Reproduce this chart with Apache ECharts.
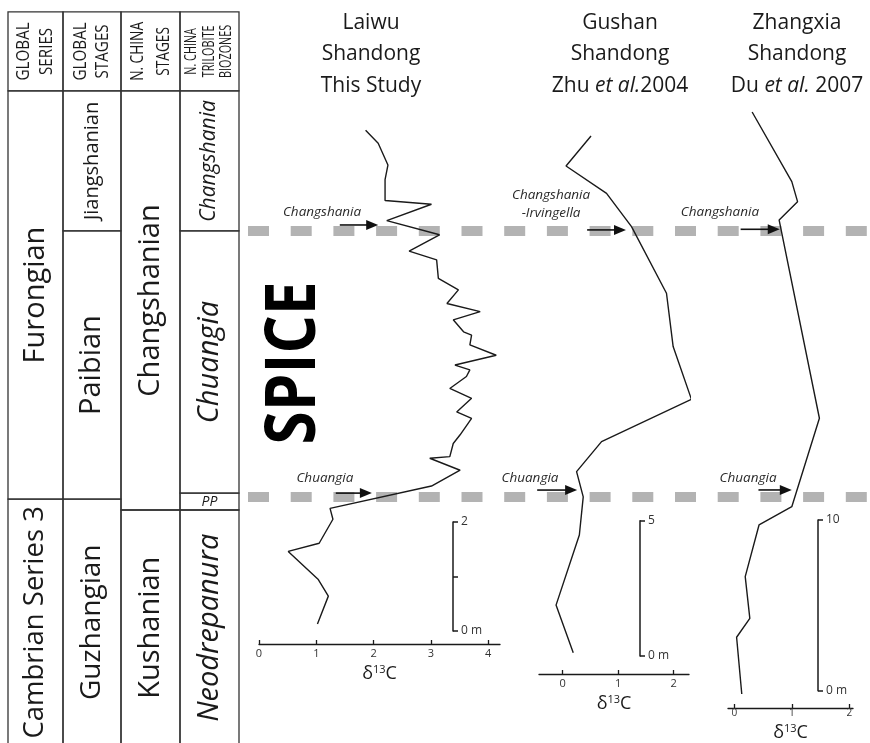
<!DOCTYPE html>
<html><head><meta charset="utf-8">
<script src="https://cdn.jsdelivr.net/npm/echarts@6/dist/echarts.min.js"></script>
<style>html,body{margin:0;padding:0;background:#fff}#c{width:870px;height:743px}</style>
</head><body><div id="c"></div>
<script>
// ================= DATA =================
// δ13C curves: [δ13C (‰), height in section (m)]
const laiwuCurve = [[1.02,0.13],[1.21,0.64],[1.03,0.95],[0.51,1.46],[1.05,1.61],[1.29,2.05],[1.24,2.25],[3.01,2.66],[3.51,2.95],[2.98,3.17],[3.33,3.20],[3.39,3.44],[3.51,3.60],[3.71,3.90],[3.45,4.02],[3.71,4.27],[3.33,4.45],[3.62,4.67],[3.68,4.79],[3.42,4.88],[4.14,5.06],[3.68,5.25],[3.71,5.43],[3.57,5.49],[3.39,5.71],[3.86,5.86],[3.28,6.01],[3.48,6.26],[3.13,6.47],[3.10,6.81],[2.62,6.97],[3.15,7.27],[2.23,7.53],[3.01,7.83],[2.20,7.90],[2.20,8.28],[2.25,8.55],[2.08,8.95],[1.86,9.19]];
const gushanCurve = [[0.19,0.12],[-0.12,1.88],[0.30,4.47],[0.37,5.88],[0.25,6.81],[0.70,7.92],[2.32,9.48],[1.99,11.43],[1.87,13.40],[1.24,15.86],[0.79,17.09],[0.06,18.10],[0.51,19.21]];
const zhangxiaCurve = [[0.13,-0.19],[0.04,3.13],[0.27,4.24],[0.19,6.68],[0.43,9.71],[1.00,10.78],[1.48,15.96],[0.78,27.57],[1.10,28.65],[1.00,29.82],[0.31,33.90]];

// Section titles
const sectionTitles = ['Laiwu\nShandong\nThis Study', 'Gushan\nShandong\nZhu {i|et al.}2004', 'Zhangxia\nShandong\nDu {i|et al.} 2007'];

// δ13C axis ticks
const laiwuTicks = [0,1,2,3,4];
const gushanTicks = [0,1,2];
const zhangxiaTicks = [0,1,2];
// vertical scale bars (m)
const laiwuBarTicks = [0,1,2], laiwuBarLabels = [0,2];
const gushanBarTicks = [0,5], gushanBarLabels = [0,5];
const zhangxiaBarTicks = [0,10], zhangxiaBarLabels = [0,10];

// Biozone base arrows: [δ start, δ end, height m]
const laiwuArrows = [[1.41,2.08,7.45],[1.34,1.97,2.53]];
const gushanArrows = [[0.44,1.14,15.74],[-0.46,0.26,6.13]];
const zhangxiaArrows = [[0.11,0.79,27.03],[0.42,1.00,11.76]];
// Arrow labels: [text, δ, height m]
const laiwuArrowLabels = [['Changshania',1.10,7.69],['Chuangia',1.15,2.81]];
const gushanArrowLabels = [['Changshania\n-Irvingella',-0.21,16.70],['Chuangia',-0.59,6.58]];
const zhangxiaArrowLabels = [['Changshania',-0.25,28.04],['Chuangia',0.24,12.46]];

// Stratigraphic framework, levels in Laiwu section metres: [name, top, base]
const headerTop = 11.36, headerBase = 9.91;
const columnHeaders = ['GLOBAL\nSERIES','GLOBAL\nSTAGES','N. CHINA\nSTAGES','N. CHINA\nTRILOBITE\nBIOZONES'];
const globalSeries = [['Furongian',9.91,2.42],['Cambrian Series 3',2.42,-2.1]];
const globalStages = [['Jiangshanian',9.91,7.34],['Paibian',7.34,2.42],['Guzhangian',2.42,-2.1]];
const chinaStages = [['Changshanian',9.91,2.22],['Kushanian',2.22,-2.1]];
const trilobiteZones = [['Changshania',9.91,7.34],['Chuangia',7.34,2.53],['PP',2.53,2.22],['Neodrepanura',2.22,-2.1]];
const spiceBounds = [7.34, 2.46];
const spiceLabel = 'SPICE';

// ================= LAYOUT / STYLE =================
const FONT = '"Open Sans","Noto Sans",sans-serif';
const INK = '#1a1a1a';
const TOP = 100;
const panelLayout = [
  {axisLeft:259, axisRight:500, axisY:644, zeroY:631, pxPerM:54.5, x0:259, pxPerD:57.3, barX:453, nameGap:19, labelMargin:4, labelSize:11, titleX:371},
  {axisLeft:539, axisRight:689, axisY:674, zeroY:656, pxPerM:27.07, x0:562.7, pxPerD:55.5, barX:640, nameGap:16, labelMargin:4, labelSize:11, titleX:620},
  {axisLeft:728, axisRight:853, axisY:708, zeroY:690.7, pxPerM:17.07, x0:734.3, pxPerD:57.5, barX:818, nameGap:13, labelMargin:0, labelSize:10, titleX:797}
];
const strat = {left:8, top:12, width:862, height:731, zeroY:631, pxPerM:54.5};
const colEdges = [0,55,113,172,231];
const dashFrom = 240, dashTo = 862;
const cellFontSize = {'Furongian':29,'Cambrian Series 3':27.5,'Jiangshanian':20,'Paibian':29,'Guzhangian':28,'Changshanian':29,'Kushanian':29,'Changshania':21,'Chuangia':29,'PP':14,'Neodrepanura':29};
const headerFont = [19,19,19,15.5], headerScale = [0.8,0.8,0.72,0.7], headerLH = [23,22,26,17.5];

const curves = [laiwuCurve, gushanCurve, zhangxiaCurve];
const ticks = [laiwuTicks, gushanTicks, zhangxiaTicks];
const barTicks = [laiwuBarTicks, gushanBarTicks, zhangxiaBarTicks];
const barLabels = [laiwuBarLabels, gushanBarLabels, zhangxiaBarLabels];
const arrows = [laiwuArrows, gushanArrows, zhangxiaArrows];
const arrowLabels = [laiwuArrowLabels, gushanArrowLabels, zhangxiaArrowLabels];

// table cells
const cells = [];
columnHeaders.forEach((h,i)=>cells.push({c:i, top:headerTop, base:headerBase, text:h, header:true}));
[globalSeries, globalStages, chinaStages, trilobiteZones].forEach((col,i)=>col.forEach(u=>cells.push({c:i, top:u[1], base:u[2], text:u[0]})));

const grids = [{left:strat.left, top:strat.top, width:strat.width, height:strat.height, outerBoundsMode:'none'}];
const xAxes = [{gridIndex:0, type:'value', min:0, max:strat.width, show:false}];
const yAxes = [{gridIndex:0, type:'value', min:(strat.zeroY-strat.top-strat.height)/strat.pxPerM, max:(strat.zeroY-strat.top)/strat.pxPerM, show:false}];
const series = [];

// table
series.push({
  type:'custom', xAxisIndex:0, yAxisIndex:0, clip:false, silent:true, z:2,
  data: cells.map(c=>[c.c, c.top, c.base]),
  renderItem:(params, api)=>{
    const cell = cells[params.dataIndex];
    const x0 = api.coord([colEdges[cell.c],0])[0], x1 = api.coord([colEdges[cell.c+1],0])[0];
    const y0 = api.coord([0,cell.top])[1], y1 = api.coord([0,cell.base])[1];
    let fs, sc = 1, lh, italic = (cell.c === 3 && !cell.header), rot = Math.PI/2;
    if (cell.header) { fs = headerFont[cell.c]; sc = headerScale[cell.c]; lh = headerLH[cell.c]; }
    else { fs = cellFontSize[cell.text] || 28; lh = fs*1.2; }
    if (cell.text === 'PP') rot = 0;
    return {type:'group', children:[
      {type:'rect', shape:{x:x0, y:y0, width:x1-x0, height:y1-y0}, style:{fill:'none', stroke:'#333', lineWidth:1.3}},
      {type:'text', x:(x0+x1)/2, y:(y0+y1)/2 + (rot===0?0.5:0), rotation:rot, scaleX:sc,
       style:{text:cell.text, fill:INK, fontFamily:FONT, fontSize:fs, fontStyle: italic?'italic':'normal', align:'center', verticalAlign:'middle', lineHeight:lh}}
    ]};
  }
});
// SPICE boundary dashed lines
spiceBounds.forEach(lv=>series.push({
  type:'line', xAxisIndex:0, yAxisIndex:0, data:[[dashFrom,lv],[dashTo,lv]], symbol:'none', silent:true, z:1,
  lineStyle:{color:'#b3b3b3', width:10, type:[21,21.7], cap:'butt'}
}));

panelLayout.forEach((L,i)=>{
  const gi = grids.length;
  grids.push({left:L.axisLeft, width:L.axisRight-L.axisLeft, top:TOP, height:L.axisY-TOP, outerBoundsMode:'none'});
  xAxes.push({gridIndex:gi, type:'value', min:(L.axisLeft-L.x0)/L.pxPerD, max:(L.axisRight-L.x0)/L.pxPerD,
    axisLine:{show:true, onZero:false, lineStyle:{color:INK, width:1.3}},
    axisTick:{show:true, inside:true, length:4, customValues:ticks[i], lineStyle:{color:INK, width:1.3}},
    axisLabel:{show:true, customValues:ticks[i], fontSize:L.labelSize, color:'#333', fontFamily:FONT, margin:L.labelMargin},
    splitLine:{show:false},
    name:'{a|δ}{b|13}{a|C}', nameLocation:'middle', nameGap:L.nameGap,
    nameTextStyle:{rich:{a:{fontSize:18, fontFamily:FONT, color:INK, lineHeight:20}, b:{fontSize:11, fontFamily:FONT, color:INK, verticalAlign:'top', lineHeight:20}}}
  });
  yAxes.push({gridIndex:gi, type:'value', min:(L.zeroY-L.axisY)/L.pxPerM, max:(L.zeroY-TOP)/L.pxPerM, show:false});
  series.push({type:'line', xAxisIndex:gi, yAxisIndex:gi, data:curves[i], symbol:'none', z:4, silent:true,
    lineStyle:{color:INK, width:1.4}});
  // arrows
  series.push({type:'custom', xAxisIndex:gi, yAxisIndex:gi, clip:false, silent:true, z:5,
    data: arrows[i],
    renderItem:(params, api)=>{
      const p0 = api.coord([api.value(0), api.value(2)]);
      const p1 = api.coord([api.value(1), api.value(2)]);
      const head = 12, hw = 5;
      return {type:'group', children:[
        {type:'line', shape:{x1:p0[0], y1:p0[1], x2:p1[0]-head+1, y2:p1[1]}, style:{stroke:'#111', lineWidth:1.6}},
        {type:'polygon', shape:{points:[[p1[0],p1[1]],[p1[0]-head,p1[1]-hw],[p1[0]-head,p1[1]+hw]]}, style:{fill:'#111'}}
      ]};
    }});
  series.push({type:'custom', xAxisIndex:gi, yAxisIndex:gi, clip:false, silent:true, z:5,
    data: arrowLabels[i].map(a=>[a[1],a[2]]),
    renderItem:(params, api)=>{
      const p = api.coord([api.value(0), api.value(1)]);
      return {type:'text', x:p[0], y:p[1], style:{text:arrowLabels[i][params.dataIndex][0], fill:'#2a2a2a', fontFamily:FONT, fontStyle:'italic', fontSize:13.5, align:'center', verticalAlign:'middle', lineHeight:18}};
    }});
});

// scale bars
panelLayout.forEach((L,i)=>{
  const gi = grids.length;
  const mx = barTicks[i][barTicks[i].length-1];
  grids.push({left:L.barX, width:20, top:L.zeroY - mx*L.pxPerM, height:mx*L.pxPerM, outerBoundsMode:'none'});
  xAxes.push({gridIndex:gi, type:'value', min:0, max:1, show:false});
  yAxes.push({gridIndex:gi, type:'value', min:0, max:mx, position:'left',
    axisLine:{show:true, onZero:false, lineStyle:{color:INK, width:1.5}},
    axisTick:{show:true, inside:true, length:5, customValues:barTicks[i], lineStyle:{color:INK, width:1.5}},
    axisLabel:{show:true, inside:true, customValues:barLabels[i], margin:8, fontSize:12, color:'#333', fontFamily:FONT,
      formatter:v=> v===0 ? '0 m' : String(v)},
    splitLine:{show:false}});
});

const option = {
  animation:false,
  backgroundColor:'#fff',
  title: sectionTitles.map((t,i)=>({text:t, left:panelLayout[i].titleX, top:7, textAlign:'center', padding:0,
    textStyle:{fontFamily:FONT, fontSize:21, fontWeight:'normal', color:INK, lineHeight:31.5,
      rich:{i:{fontFamily:FONT, fontSize:21, fontStyle:'italic', color:INK, lineHeight:31.5}}}})),
  grid:grids, xAxis:xAxes, yAxis:yAxes, series:series,
  graphic:[{type:'text', x:295, y:363, rotation:Math.PI/2, scaleX:0.86, silent:true,
    style:{text:spiceLabel, fontFamily:FONT, fontWeight:'bold', fontSize:70, fill:'#000', align:'center', verticalAlign:'middle'}}]
};
const chart = echarts.init(document.getElementById('c'), null, {renderer:'canvas'});
chart.setOption(option);
</script></body></html>
